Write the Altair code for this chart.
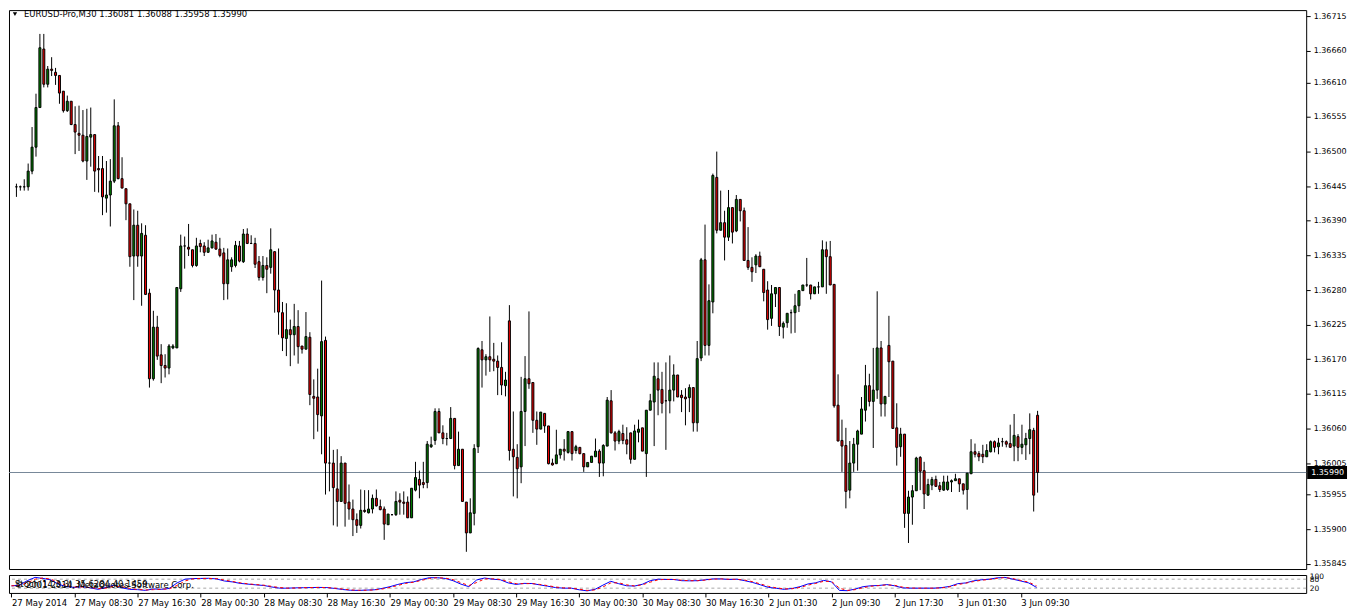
import json
import altair as alt
import pandas as pd

# ---------------- data (prices in 1e-5 units, EURUSD M30) ----------------
opens = [
    136444, 136444, 136444, 136444, 136469, 136507, 136570, 136663, 136607, 136631,
    136626, 136621, 136596, 136565, 136580, 136543, 136529, 136526, 136485, 136523,
    136527, 136473, 136473, 136426, 136431, 136453, 136541, 136457, 136441, 136417,
    136334, 136383, 136334, 136367, 136275, 136139, 136221, 136177, 136160, 136156,
    136188, 136188, 136282, 136350, 136348, 136344, 136319, 136354, 136350, 136340,
    136347, 136356, 136345, 136339, 136290, 136317, 136319, 136350, 136325, 136369,
    136354, 136354, 136325, 136300, 136319, 136316, 136341, 136280, 136244, 136203,
    136217, 136209, 136222, 136191, 136186, 136205, 136111, 136110, 136080, 136200,
    136005, 136005, 135964, 135944, 136005, 135943, 135932, 135915, 135906, 135930,
    135926, 135932, 135949, 135936, 135932, 135907, 135923, 135923, 135946, 135943,
    135943, 135918, 135962, 135979, 135974, 135974, 136031, 136041, 136087, 136053,
    136044, 136044, 136076, 136001, 136027, 135943, 135894, 135925, 136031, 136185,
    136169, 136174, 136170, 136167, 136157, 136128, 136231, 136027, 136014, 135999,
    136087, 136139, 136133, 136073, 136059, 136084, 136064, 136005, 136004, 136018,
    136027, 136022, 136055, 136025, 136030, 136020, 135999, 136006, 136015, 136024,
    136005, 136032, 136104, 136053, 136040, 136052, 136042, 136053, 136011, 136054,
    136061, 136020, 136089, 136102, 136139, 136122, 136104, 136104, 136121, 136145,
    136113, 136110, 136109, 136125, 136069, 136172, 136328, 136192, 136261, 136459,
    136375, 136387, 136364, 136411, 136374, 136424, 136406, 136327, 136316, 136320,
    136334, 136313, 136280, 136235, 136274, 136284, 136221, 136228, 136244, 136244,
    136255, 136279, 136288, 136288, 136274, 136285, 136285, 136344, 136333, 136289,
    136097, 136041, 136033, 135962, 136005, 136035, 136051, 136089, 136128, 136103,
    136121, 136188, 136099, 136192, 136167, 136061, 136031, 136051, 135925, 135951,
    135961, 136014, 135993, 135954, 135970, 135979, 135969, 135962, 135963, 135975,
    135977, 135980, 135972, 135963, 135988, 136023, 136020, 136019, 136015, 136023,
    136039, 136031, 136039, 136039, 136036, 136032, 136047, 136030, 136034, 136044,
    136057, 136081,
]
highs = [
    136449, 136446, 136456, 136481, 136539, 136592, 136687, 136687, 136636, 136650,
    136633, 136621, 136596, 136589, 136580, 136572, 136573, 136566, 136568, 136570,
    136527, 136493, 136493, 136485, 136488, 136583, 136547, 136491, 136441, 136417,
    136408, 136406, 136386, 136383, 136282, 136247, 136239, 136194, 136178, 136194,
    136194, 136284, 136368, 136365, 136385, 136344, 136363, 136360, 136356, 136360,
    136368, 136369, 136363, 136347, 136346, 136332, 136358, 136358, 136377, 136378,
    136367, 136363, 136334, 136334, 136332, 136378, 136341, 136346, 136261, 136259,
    136233, 136258, 136248, 136191, 136245, 136213, 136138, 136155, 136295, 136206,
    136047, 136026, 136027, 136016, 136005, 135971, 135947, 135925, 135963, 135962,
    135962, 135955, 135963, 135947, 135936, 135924, 135924, 135960, 135957, 135960,
    135952, 135965, 136007, 135993, 136007, 136040, 136047, 136092, 136092, 136065,
    136053, 136094, 136076, 136055, 136027, 135943, 135949, 136035, 136189, 136199,
    136178, 136238, 136196, 136176, 136197, 136150, 136256, 136087, 136035, 136142,
    136175, 136246, 136133, 136087, 136086, 136084, 136064, 136012, 136058, 136027,
    136043, 136056, 136055, 136034, 136030, 136020, 136006, 136016, 136044, 136027,
    136035, 136110, 136121, 136056, 136058, 136066, 136062, 136053, 136066, 136074,
    136061, 136089, 136115, 136165, 136165, 136150, 136165, 136176, 136162, 136145,
    136121, 136124, 136130, 136125, 136199, 136331, 136384, 136289, 136465, 136500,
    136438, 136406, 136439, 136411, 136431, 136424, 136411, 136380, 136332, 136337,
    136341, 136313, 136294, 136288, 136284, 136284, 136230, 136243, 136249, 136274,
    136279, 136288, 136331, 136288, 136285, 136293, 136359, 136357, 136358, 136289,
    136146, 136074, 136061, 136040, 136045, 136058, 136110, 136161, 136147, 136188,
    136278, 136199, 136099, 136239, 136167, 136100, 136061, 136051, 135961, 135970,
    136015, 136016, 136007, 135980, 135983, 135985, 135975, 135985, 135985, 135979,
    135988, 135980, 135972, 135989, 136043, 136036, 136024, 136034, 136035, 136041,
    136041, 136045, 136045, 136041, 136066, 136083, 136051, 136066, 136053, 136084,
    136061, 136088,
]
lows = [
    136428, 136438, 136438, 136438, 136464, 136492, 136570, 136602, 136602, 136620,
    136606, 136576, 136562, 136563, 136542, 136496, 136501, 136483, 136455, 136476,
    136436, 136435, 136399, 136403, 136381, 136450, 136456, 136442, 136391, 136317,
    136264, 136317, 136255, 136272, 136125, 136136, 136169, 136132, 136141, 136146,
    136186, 136188, 136277, 136314, 136334, 136316, 136317, 136340, 136334, 136339,
    136346, 136344, 136332, 136264, 136265, 136309, 136316, 136324, 136323, 136353,
    136353, 136315, 136295, 136295, 136275, 136306, 136244, 136209, 136183, 136175,
    136159, 136176, 136163, 136179, 136186, 136097, 136043, 136055, 136019, 135955,
    135960, 135906, 135904, 135944, 135904, 135915, 135889, 135894, 135901, 135926,
    135925, 135925, 135936, 135930, 135883, 135907, 135922, 135921, 135923, 135923,
    135918, 135918, 135960, 135949, 135965, 135965, 136029, 136034, 136053, 136035,
    136033, 136044, 135995, 136001, 135944, 135864, 135894, 135906, 136021, 136125,
    136144, 136150, 136151, 136113, 136113, 136111, 136009, 135952, 135949, 135973,
    136032, 136123, 136053, 136034, 136059, 136053, 136003, 136001, 136004, 136012,
    136009, 136020, 136009, 136020, 136019, 135991, 135999, 136006, 136015, 135983,
    135984, 136032, 136052, 136025, 136035, 136035, 136019, 136004, 136011, 136038,
    136024, 135983, 136089, 136032, 136081, 136084, 136026, 136084, 136103, 136110,
    136086, 136065, 136086, 136055, 136055, 136167, 136176, 136176, 136243, 136370,
    136375, 136327, 136358, 136354, 136372, 136389, 136327, 136312, 136293, 136307,
    136317, 136262, 136217, 136223, 136253, 136207, 136203, 136220, 136211, 136212,
    136245, 136279, 136285, 136265, 136274, 136274, 136285, 136274, 136288, 136093,
    136040, 135991, 135933, 135949, 135991, 135993, 136051, 136071, 136095, 136029,
    136107, 136079, 136079, 136110, 136060, 136001, 136015, 135902, 135878, 135907,
    135961, 135962, 135932, 135953, 135962, 135967, 135959, 135961, 135961, 135959,
    135977, 135959, 135955, 135931, 135988, 136014, 136008, 136005, 136015, 136022,
    136022, 136019, 136031, 136030, 136030, 136008, 136008, 136019, 136010, 136019,
    135928, 135958,
]
closes = [
    136444, 136444, 136444, 136469, 136507, 136570, 136665, 136607, 136631, 136629,
    136621, 136593, 136565, 136580, 136543, 136531, 136526, 136485, 136524, 136527,
    136469, 136471, 136428, 136431, 136453, 136541, 136457, 136442, 136417, 136333,
    136383, 136334, 136370, 136273, 136139, 136221, 136175, 136160, 136156, 136191,
    136191, 136284, 136350, 136350, 136345, 136319, 136350, 136349, 136340, 136347,
    136358, 136345, 136335, 136290, 136328, 136328, 136351, 136326, 136369, 136354,
    136354, 136321, 136300, 136319, 136313, 136344, 136280, 136245, 136204, 136217,
    136209, 136222, 136190, 136186, 136206, 136114, 136108, 136082, 136198, 136005,
    136005, 135966, 135944, 136005, 135941, 135932, 135915, 135906, 135930, 135928,
    135932, 135949, 135937, 135931, 135908, 135924, 135923, 135944, 135943, 135941,
    135918, 135965, 135982, 135970, 135971, 136035, 136034, 136087, 136053, 136044,
    136044, 136076, 136001, 136027, 135944, 135894, 135926, 136028, 136187, 136169,
    136174, 136169, 136167, 136157, 136129, 136137, 136025, 136015, 135996, 136087,
    136139, 136131, 136073, 136059, 136086, 136064, 136004, 136002, 136018, 136027,
    136024, 136055, 136020, 136031, 136020, 135999, 136006, 136016, 136024, 136005,
    136033, 136105, 136053, 136040, 136055, 136041, 136035, 136011, 136056, 136059,
    136024, 136089, 136104, 136143, 136121, 136100, 136104, 136121, 136145, 136110,
    136109, 136107, 136125, 136069, 136171, 136328, 136192, 136263, 136462, 136375,
    136387, 136364, 136411, 136372, 136424, 136406, 136327, 136316, 136309, 136334,
    136317, 136276, 136233, 136274, 136284, 136222, 136227, 136243, 136244, 136255,
    136279, 136288, 136288, 136274, 136285, 136285, 136344, 136333, 136288, 136096,
    136040, 136032, 135960, 136005, 136035, 136056, 136091, 136128, 136103, 136121,
    136188, 136099, 136111, 136166, 136060, 136030, 136051, 135925, 135951, 135961,
    136013, 135992, 135956, 135971, 135979, 135968, 135963, 135975, 135975, 135977,
    135980, 135972, 135962, 135989, 136023, 136019, 136015, 136015, 136025, 136039,
    136030, 136037, 136039, 136035, 136030, 136049, 136030, 136035, 136044, 136058,
    135954, 135990,
]

stoch_bars = list(range(0, 261, 2))
stoch_main = [
    35, 40, 70, 92, 85, 75, 45, 30, 25, 30,
    22, 12, 25, 40, 22, 12, 10, 5, 15, 12,
    18, 55, 80, 84, 85, 86, 82, 68, 62, 52,
    47, 42, 38, 28, 20, 20, 22, 23, 24, 25,
    24, 18, 11, 6, 5, 7, 9, 18, 30, 45,
    57, 62, 78, 90, 90, 85, 70, 47, 30, 75,
    88, 80, 76, 55, 45, 52, 51, 42, 33, 24,
    20, 20, 9, 2, 12, 40, 66, 50, 36, 34,
    46, 70, 80, 78, 78, 70, 69, 70, 76, 82,
    82, 78, 80, 70, 58, 42, 25, 19, 12, 18,
    30, 48, 56, 72, 62, 5, 3, 14, 30, 36,
    38, 44, 36, 22, 20, 20, 20, 20, 24, 32,
    50, 55, 69, 76, 80, 89, 92, 80, 68, 55,
    25,
]
stoch_signal = [
    36, 38, 55, 80, 88, 80, 58, 38, 28, 28,
    25, 17, 20, 33, 30, 18, 12, 8, 10, 13,
    15, 38, 68, 82, 85, 85, 84, 74, 65, 56,
    49, 44, 40, 32, 24, 20, 21, 23, 24, 25,
    24, 20, 14, 8, 6, 6, 8, 14, 25, 38,
    52, 60, 72, 85, 90, 87, 77, 57, 37, 58,
    82, 83, 78, 63, 50, 50, 51, 45, 37, 28,
    22, 20, 13, 5, 8, 28, 55, 56, 42, 35,
    42, 60, 76, 79, 78, 73, 70, 70, 74, 80,
    82, 80, 79, 74, 63, 48, 32, 22, 15, 16,
    25, 40, 52, 66, 65, 20, 5, 10, 23, 33,
    37, 42, 39, 27, 21, 20, 20, 20, 22, 29,
    44, 53, 64, 73, 78, 86, 91, 84, 72, 60,
    35,
]
stoch_levels = [80, 20]
stoch_axis_labels = [100, 80, 20]

time_labels = [
    "27 May 2014", "27 May 08:30", "27 May 16:30", "28 May 00:30", "28 May 08:30",
    "28 May 16:30", "29 May 00:30", "29 May 08:30", "29 May 16:30", "30 May 00:30",
    "30 May 08:30", "30 May 16:30", "2 Jun 01:30", "2 Jun 09:30", "2 Jun 17:30",
    "3 Jun 01:30", "3 Jun 09:30",
]
time_label_bars = list(range(0, 257, 16))

price_ticks = [1.36715, 1.36660, 1.36610, 1.36555, 1.36500, 1.36445, 1.36390,
               1.36335, 1.36280, 1.36225, 1.36170, 1.36115, 1.36060, 1.36005,
               1.35955, 1.35900, 1.35845]
bid_price = [1.35990]
bid_label = ["1.35990"]
title_text = ["EURUSD-Pro,M30  1.36081 1.36088 1.35958 1.35990"]
stoch_title = ["Stoch(14,3,3) 35.6284 40.1459"]
copyright_text = ["\u00a9 2001-2014, MetaQuotes Software Corp."]

# ---------------- tables ----------------
n = len(opens)
df = pd.DataFrame({
    "i": list(range(n)),
    "open": [v / 1e5 for v in opens],
    "high": [v / 1e5 for v in highs],
    "low": [v / 1e5 for v in lows],
    "close": [v / 1e5 for v in closes],
    "dir": ["up" if c >= o else "down" for o, c in zip(opens, closes)],
})
sdf = pd.DataFrame({"bar": stoch_bars, "main": stoch_main, "signal": stoch_signal})
bid_df = pd.DataFrame({"price": bid_price, "label": bid_label})

# ---------------- layout / styles ----------------
W, H, HS = 1302, 561, 18
FONT = "DejaVu Sans"
FS = 8.5
GREEN, RED = "#008000", "#F00000"

xscale = alt.Scale(domain=[-0.625, 328.375], nice=False, zero=False)
yscale = alt.Scale(domain=[1.3583662, 1.3672483], nice=False, zero=False)
sscale = alt.Scale(domain=[-12, 108], nice=False, zero=False)

yaxis = alt.Axis(orient="right", values=price_ticks, format=".5f", tickSize=4,
                 tickColor="black", domain=False, grid=False, labelFont=FONT,
                 labelFontSize=8, labelColor="black", labelPadding=3, title=None,
                 labelOverlap=False)

X = alt.X("i:Q", scale=xscale, axis=None)


def Yp(field):
    return alt.Y(field, scale=yscale, axis=yaxis)


bidline = alt.Chart(bid_df).mark_rule(color="#778899", strokeWidth=1).encode(
    y=Yp("price:Q"))
wicks = alt.Chart(df).mark_rule(color="black", strokeWidth=1).encode(
    x=X, y=Yp("low:Q"), y2="high:Q")
bodies = alt.Chart(df).mark_bar(size=2, stroke="black", strokeWidth=1).encode(
    x=X, y=Yp("open:Q"), y2="close:Q",
    fill=alt.Fill("dir:N", scale=alt.Scale(domain=["up", "down"], range=[GREEN, RED]),
                  legend=None))
box = alt.Chart(bid_df).mark_rule(color="black", strokeWidth=13, clip=False).encode(
    y=Yp("price:Q"), x=alt.value(W + 1), x2=alt.value(W + 41))
boxtext = alt.Chart(bid_df).mark_text(color="white", align="left", baseline="middle",
                                      font=FONT, fontSize=8, clip=False).encode(
    y=Yp("price:Q"), x=alt.value(W + 5), text="label:N")
title_df = pd.DataFrame({"t": title_text})
tri = alt.Chart(title_df).mark_point(shape="triangle-down", filled=True, color="black",
                                     size=18, opacity=1).encode(
    x=alt.value(6), y=alt.value(4))
title = alt.Chart(title_df).mark_text(align="left", baseline="middle", font=FONT,
                                      fontSize=FS, color="black").encode(
    x=alt.value(15), y=alt.value(4), text="t:N")

main = alt.layer(bidline, wicks, bodies, box, boxtext, tri, title).properties(
    width=W, height=H)

label_expr = json.dumps(time_labels) + "[round(datum.value / 16)]"
xaxis = alt.Axis(values=time_label_bars, labelExpr=label_expr, tickSize=4,
                 tickColor="black", domain=False, grid=False, labelAlign="left",
                 labelPadding=2, labelFont=FONT, labelFontSize=FS, labelColor="black",
                 title=None, labelOverlap=False, labelFlush=False, labelBound=False)
saxis = alt.Axis(orient="right", values=stoch_axis_labels, tickSize=0, domain=False,
                 grid=False, labelFont=FONT, labelFontSize=7.5, labelColor="black",
                 labelPadding=3, title=None, labelOverlap=False)


def Xs(field):
    return alt.X(field, scale=xscale, axis=xaxis)


def Ys(field):
    return alt.Y(field, scale=sscale, axis=saxis)


levels = alt.Chart(pd.DataFrame({"v": stoch_levels})).mark_rule(
    color="#A8A8A8", strokeDash=[3, 3], strokeWidth=1).encode(y=Ys("v:Q"))
blue = alt.Chart(sdf).mark_line(color="#0000FF", strokeWidth=1).encode(
    x=Xs("bar:Q"), y=Ys("main:Q"))
red = alt.Chart(sdf).mark_line(color="#FF0000", strokeWidth=1, strokeDash=[3, 3]).encode(
    x=Xs("bar:Q"), y=Ys("signal:Q"))
st1 = alt.Chart(pd.DataFrame({"t": stoch_title})).mark_text(
    align="left", baseline="middle", font=FONT, fontSize=FS, color="black").encode(
    x=alt.value(6), y=alt.value(9), text="t:N")
st2 = alt.Chart(pd.DataFrame({"t": copyright_text})).mark_text(
    align="left", baseline="middle", font=FONT, fontSize=FS, color="black").encode(
    x=alt.value(6), y=alt.value(10), text="t:N")

stoch = alt.layer(levels, blue, red, st1, st2).properties(width=W, height=HS)

chart = alt.vconcat(main, stoch, spacing=1).properties(
    padding={"left": 0, "top": 0, "right": 0, "bottom": 0},
    background="white",
).configure_view(stroke="black", strokeWidth=1)

chart.save("out.html", embed_options={"renderer": "svg", "actions": False})
